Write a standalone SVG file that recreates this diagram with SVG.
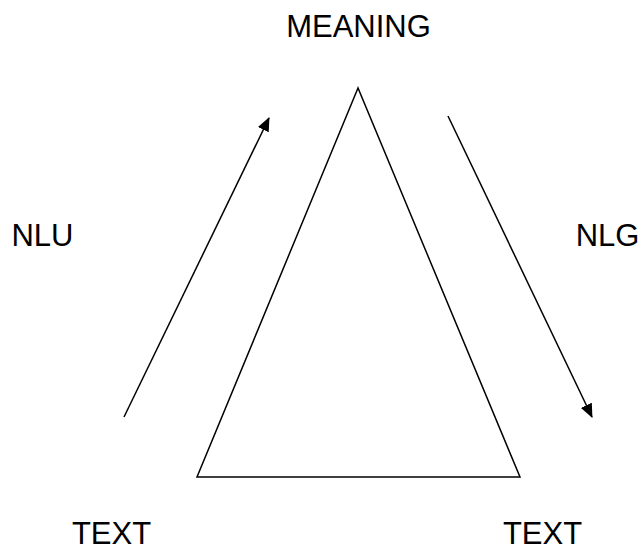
<svg xmlns="http://www.w3.org/2000/svg" width="641" height="548" viewBox="0 0 641 548">
<style>
text{font-family:"Liberation Sans",Arial,sans-serif;font-size:31px;fill:#000;text-anchor:middle}
.ln{stroke:#000;stroke-width:1.5;fill:none}
</style>
<defs>
<marker id="ah" markerWidth="14" markerHeight="12" refX="13" refY="6" orient="auto" markerUnits="userSpaceOnUse">
<path d="M0,0 L14,6 L0,12 Z" fill="#000"/>
</marker>
</defs>
<rect width="641" height="548" fill="#fff"/>
<g id="triangle"><polygon class="ln" points="358,88 197,477 520,477"/></g>
<g id="meaning"><text x="358.5" y="37">MEANING</text></g>
<g id="nlu"><text x="42.5" y="246">NLU</text></g>
<g id="nlg"><text x="607.5" y="246">NLG</text></g>
<g id="text-left"><text x="111.5" y="544">TEXT</text></g>
<g id="text-right"><text x="542.5" y="544">TEXT</text></g>
<g id="connectors">
<line class="ln" x1="124" y1="417" x2="269" y2="118" marker-end="url(#ah)"/>
<line class="ln" x1="448" y1="116" x2="592" y2="417" marker-end="url(#ah)"/>
</g>
</svg>
